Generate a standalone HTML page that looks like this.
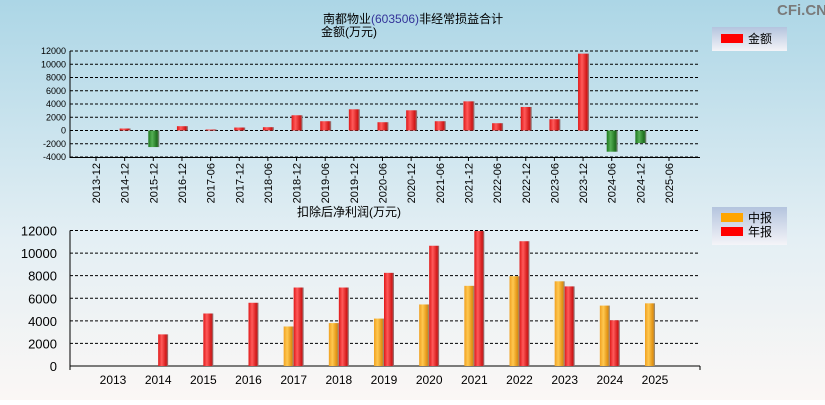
<!DOCTYPE html>
<html><head><meta charset="utf-8"><style>
body{margin:0;width:825px;height:400px;overflow:hidden;font-family:"Liberation Sans","Noto Sans CJK SC",sans-serif;}
svg text{font-family:"Liberation Sans","Noto Sans CJK SC",sans-serif;}
</style></head><body>
<svg id="c" width="825" height="400" xmlns="http://www.w3.org/2000/svg">
<defs>
<linearGradient id="bg" x1="0" y1="0" x2="0" y2="1"><stop offset="0" stop-color="#acd6e6"/><stop offset="0.6" stop-color="#e4eff4"/><stop offset="1" stop-color="#fbf7f5"/></linearGradient>
<linearGradient id="red" x1="0" y1="0" x2="1" y2="0"><stop offset="0" stop-color="#e01818"/><stop offset="0.35" stop-color="#ff5a5a"/><stop offset="0.8" stop-color="#d01515"/><stop offset="1" stop-color="#888"/></linearGradient>
<linearGradient id="grn" x1="0" y1="0" x2="1" y2="0"><stop offset="0" stop-color="#1e7a1e"/><stop offset="0.35" stop-color="#55b055"/><stop offset="0.8" stop-color="#1c6e1c"/><stop offset="1" stop-color="#888"/></linearGradient>
<linearGradient id="org" x1="0" y1="0" x2="1" y2="0"><stop offset="0" stop-color="#f0a020"/><stop offset="0.35" stop-color="#ffc850"/><stop offset="0.8" stop-color="#e09010"/><stop offset="1" stop-color="#888"/></linearGradient>
<linearGradient id="lg" x1="0" y1="0" x2="0" y2="1"><stop offset="0" stop-color="#b4c4de"/><stop offset="1" stop-color="#f4f4f8"/></linearGradient>
</defs>
<rect width="825" height="400" fill="url(#bg)"/>
<text x="777" y="15" font-size="15" font-weight="bold" fill="#7a7a7a">CFi.CN</text>
<text x="323" y="23" font-size="12">南都物业<tspan fill="#333399">(603506)</tspan>非经常损益合计</text>
<text x="321" y="36" font-size="12">金额(万元)</text>
<text x="297" y="216" font-size="12">扣除后净利润(万元)</text>
<g>
<rect x="712" y="27" width="75" height="24" fill="url(#lg)"/>
<rect x="721" y="34" width="22" height="9" fill="#ff0000"/>
<text x="748" y="43" font-size="12">金额</text>
</g>
<g>
<rect x="712" y="207" width="75" height="38" fill="url(#lg)"/>
<rect x="721" y="213" width="22" height="9" fill="#ffa500"/>
<text x="748" y="222" font-size="12">中报</text>
<rect x="721" y="227" width="22" height="9" fill="#ff0000"/>
<text x="748" y="236" font-size="12">年报</text>
</g>
<g id="top"></g><g id="bot"></g>
</svg>
<script>
const topCats=["2013-12","2014-12","2015-12","2016-12","2017-06","2017-12","2018-06","2018-12","2019-06","2019-12","2020-06","2020-12","2021-06","2021-12","2022-06","2022-12","2023-06","2023-12","2024-06","2024-12","2025-06"];
const topVals=[0,300,-2500,650,150,450,500,2300,1400,3200,1250,3050,1400,4400,1100,3550,1700,11600,-3200,-1900,0];
const topTicks=[12000,10000,8000,6000,4000,2000,0,-2000,-4000];
const botCats=["2013","2014","2015","2016","2017","2018","2019","2020","2021","2022","2023","2024","2025"];
const midVals=[null,null,null,null,3500,3800,4200,5450,7100,7950,7500,5350,5550];
const annVals=[null,2800,4650,5600,6950,6950,8250,10650,11950,11050,7050,4050,null];
const botTicks=[12000,10000,8000,6000,4000,2000,0];
const NS="http://www.w3.org/2000/svg";
function mk(p,t,a){const e=document.createElementNS(NS,t);for(const k in a)e.setAttribute(k,a[k]);p.appendChild(e);return e;}
const T=document.getElementById('top');
const x0=70,x1=700;
const ty=v=>130.5-(v)*(79.5/12000);
const tx=i=>96+(669-96)/(topCats.length-1)*i;
topTicks.forEach(v=>{const y=ty(v);
 const l=mk(T,'line',{x1:x0,x2:x1,y1:y,y2:y,stroke:'#000','stroke-dasharray':'3,2','stroke-width':1});
 
 
 const t=mk(T,'text',{x:x0-4,y:y+3,'font-size':9,'text-anchor':'end'});t.textContent=v;
 
 
});
mk(T,'line',{x1:x0,x2:x0,y1:ty(12000),y2:ty(-4000)+1,stroke:'#000'});
mk(T,'line',{x1:x0,x2:x1,y1:ty(-4000)+0.5,y2:ty(-4000)+0.5,stroke:'#000'});
topCats.forEach((c,i)=>{const x=tx(i);
 mk(T,'line',{x1:x,x2:x,y1:ty(-4000),y2:ty(-4000)+4,stroke:'#000'});
 const t=mk(T,'text',{x:0,y:0,'font-size':11,'text-anchor':'end',transform:`translate(${x+4},${ty(-4000)+6}) rotate(-90)`});t.textContent=c;
 
 
 const v=topVals[i];if(!v)return;
 const y=Math.min(ty(v),ty(0)),h=Math.abs(ty(v)-ty(0));
 const r=mk(T,'rect',{x:x-5,y:y,width:11,height:Math.max(h,1),fill:v>0?'url(#red)':'url(#grn)'});
 
 
});
const B=document.getElementById('bot');
const by=v=>366-v*(135.5/12000);
const bx=i=>113+(655-113)/(botCats.length-1)*i;
botTicks.forEach(v=>{const y=by(v);
 if(v>0){const l=mk(B,'line',{x1:x0,x2:x1,y1:y,y2:y,stroke:'#000','stroke-dasharray':'3,2'});
 
 }
 const t=mk(B,'text',{x:x0-13,y:y+5,'font-size':13,'text-anchor':'end'});t.textContent=v;
 
 
});
mk(B,'line',{x1:x0,x2:x0,y1:by(12000),y2:by(0)+4,stroke:'#000'});
mk(B,'line',{x1:x0,x2:x1,y1:by(0),y2:by(0),stroke:'#000'});
mk(B,'line',{x1:x1,x2:x1,y1:by(0),y2:by(0)+4,stroke:'#000'});
botCats.forEach((c,i)=>{const x=bx(i);
 const t=mk(B,'text',{x:x,y:by(0)+18,'font-size':12,'text-anchor':'middle'});t.textContent=c;
 
 
 if(midVals[i]!=null){const r=mk(B,'rect',{x:x-10,y:by(midVals[i]),width:10,height:by(0)-by(midVals[i]),fill:'url(#org)'});
 
 }
 if(annVals[i]!=null){const r=mk(B,'rect',{x:x,y:by(annVals[i]),width:10,height:by(0)-by(annVals[i]),fill:'url(#red)'});
 
 }
});
</script>
</body></html>
